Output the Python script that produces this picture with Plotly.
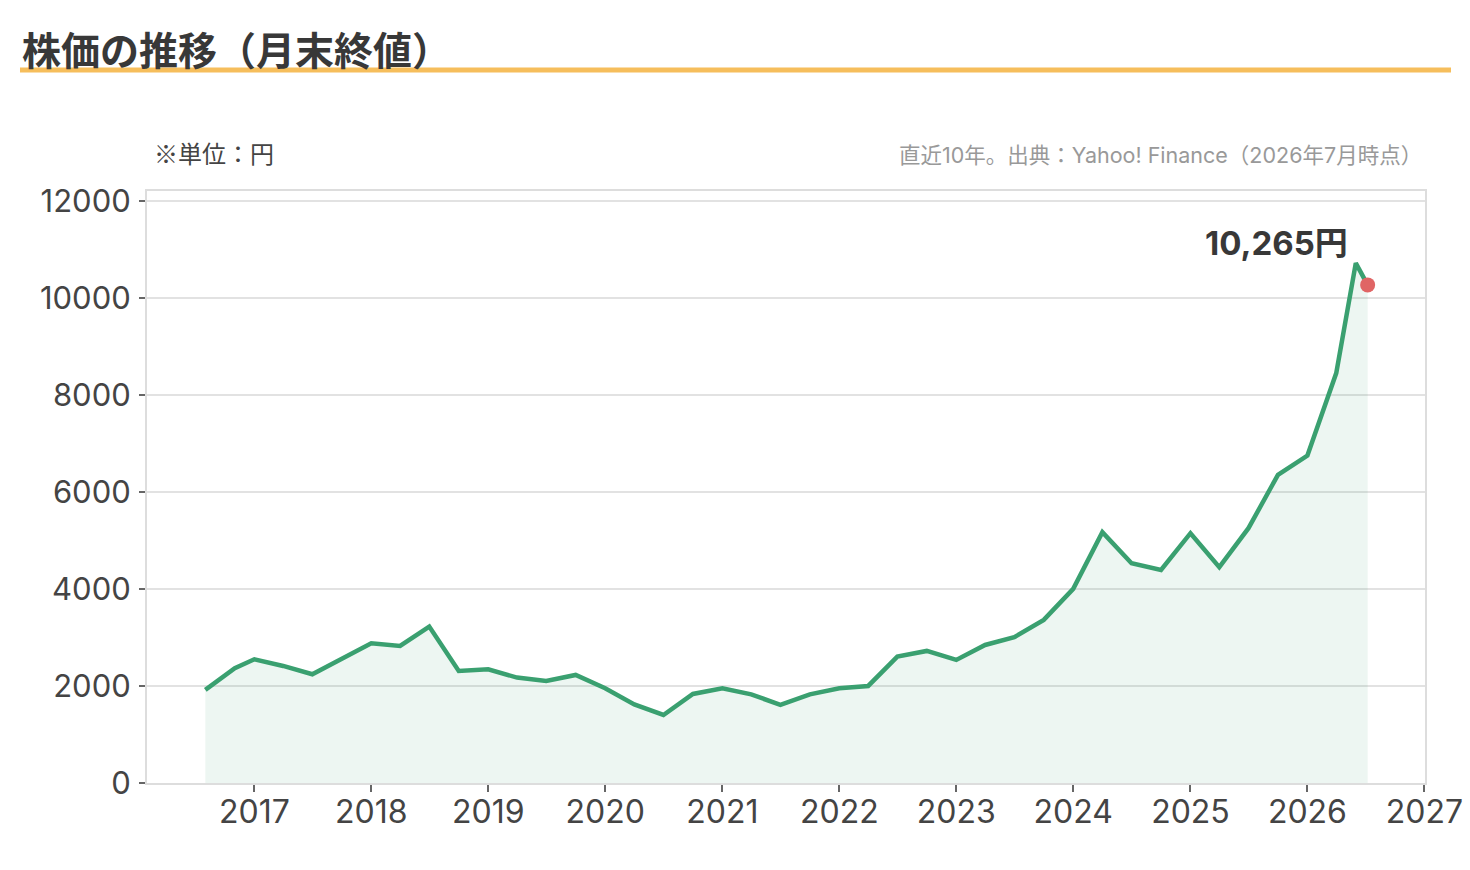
import plotly.graph_objects as go

# ---- data ----
dates = [
    "2016-08-01", "2016-11-01", "2017-01-01", "2017-04-01", "2017-07-01", "2017-10-01",
    "2018-01-01", "2018-04-01", "2018-07-01", "2018-10-01",
    "2019-01-01", "2019-04-01", "2019-07-01", "2019-10-01",
    "2020-01-01", "2020-04-01", "2020-07-01", "2020-10-01",
    "2021-01-01", "2021-04-01", "2021-07-01", "2021-10-01",
    "2022-01-01", "2022-04-01", "2022-07-01", "2022-10-01",
    "2023-01-01", "2023-04-01", "2023-07-01", "2023-10-01",
    "2024-01-01", "2024-04-01", "2024-07-01", "2024-10-01",
    "2025-01-01", "2025-04-01", "2025-07-01", "2025-10-01",
    "2026-01-01", "2026-04-01", "2026-06-01", "2026-07-08",
]
prices = [
    1920, 2365, 2550, 2412, 2241, 2563,
    2880, 2825, 3223, 2309,
    2344, 2172, 2103, 2227,
    1952, 1620, 1402, 1835,
    1952, 1828, 1608, 1828,
    1952, 2000, 2605, 2722,
    2536, 2845, 3004, 3361,
    4000, 5169, 4529, 4392,
    5148, 4447, 5251, 6351,
    6749, 8447, 10715, 10265,
]
year_ticks = [str(y) for y in range(2017, 2028)]
y_ticks = [0, 2000, 4000, 6000, 8000, 10000, 12000]

title_text = "株価の推移（月末終値）"
unit_text = "※単位：円"
source_text = "直近10年。出典：Yahoo! Finance（2026年7月時点）"

FONT = "Inter, Noto Sans CJK JP"
CJK = "Noto Sans CJK JP"
GREEN = "#3aa070"
RED = "#e06565"

fig = go.Figure()
fig.add_trace(go.Scatter(
    x=dates, y=prices, mode="lines",
    line=dict(color=GREEN, width=4.5),
    fill="tozeroy", fillcolor="rgba(58,160,112,0.09)",
    hoverinfo="skip", showlegend=False,
))
fig.add_trace(go.Scatter(
    x=[dates[-1]], y=[prices[-1]], mode="markers",
    marker=dict(color=RED, size=15),
    showlegend=False, hoverinfo="skip",
))

# plot area in pixels: x 147..1425, y 191..783
L, R, T, B = 147, 1425, 191, 783
W, H = R - L, B - T
def px(x):
    return (x - L) / W
def py(y):
    return (B - y) / H

fig.add_annotation(
    text=f"{prices[-1]:,}円", x=dates[-1], y=prices[-1], xref="x", yref="y",
    xanchor="right", yanchor="middle", xshift=-18, yshift=42, showarrow=False,
    font=dict(family=FONT, size=33, color="#383838", weight="bold"),
)
fig.add_annotation(
    text=title_text, x=px(20), y=py(48), xref="paper", yref="paper",
    xanchor="left", yanchor="middle", showarrow=False,
    font=dict(family=CJK, size=39, color="#383838", weight="bold"),
)
fig.add_annotation(
    text=unit_text, x=px(152), y=py(153), xref="paper", yref="paper",
    xanchor="left", yanchor="middle", showarrow=False,
    font=dict(family=CJK, size=24, color="#444444"),
)
fig.add_annotation(
    text=source_text, x=px(1424), y=py(155), xref="paper", yref="paper",
    xanchor="right", yanchor="middle", showarrow=False,
    font=dict(family=FONT, size=21.5, color="#999999"),
)
fig.add_shape(
    type="line", xref="paper", yref="paper",
    x0=px(20), x1=px(1451), y0=py(70), y1=py(70),
    line=dict(color="#f6be5c", width=5),
)

fig.update_layout(
    width=1470, height=870,
    margin=dict(l=L, r=1470 - R, t=T, b=870 - B),
    paper_bgcolor="white", plot_bgcolor="white",
    font=dict(family=FONT, color="#444444"),
    showlegend=False,
)
fig.update_xaxes(
    type="date", range=["2016-02-01", "2027-01-03"], automargin=False,
    tickvals=[f"{y}-01-01" for y in year_ticks], ticktext=year_ticks,
    ticks="outside", ticklen=7, tickwidth=1.5, tickcolor="#666666",
    showgrid=False, zeroline=False,
    showline=True, linecolor="#dddddd", linewidth=2, mirror=True,
    tickfont=dict(family=FONT, size=32, color="#444444"),
    ticklabelstandoff=-7,
)
fig.update_yaxes(
    range=[0, 12200], automargin=False,
    tickvals=y_ticks, ticktext=[str(v) for v in y_ticks],
    ticks="outside", ticklen=6, tickwidth=1.5, tickcolor="#666666",
    showgrid=True, gridcolor="#e2e2e2", gridwidth=1.5, zeroline=False,
    showline=True, linecolor="#dddddd", linewidth=2, mirror=True,
    tickfont=dict(family=FONT, size=31, color="#444444"),
    ticklabelstandoff=2,
)

fig.write_html("out.html")
